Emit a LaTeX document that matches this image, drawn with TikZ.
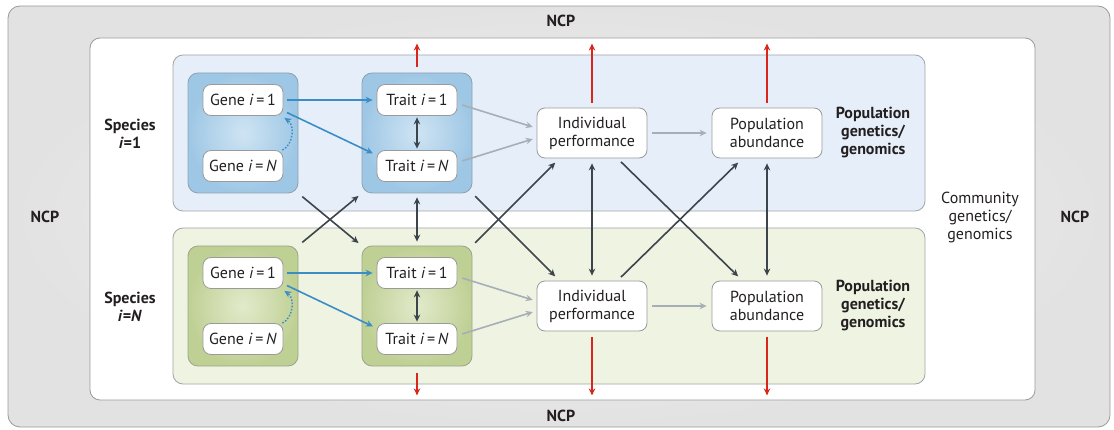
\documentclass[tikz,border=0pt]{standalone}
\usepackage{fontspec}
\setmainfont{PT Sans}
\usetikzlibrary{calc, positioning, arrows.meta, shapes}

\definecolor{ncp_fill}{HTML}{E2E2E2}
\definecolor{ncp_light}{HTML}{F4F4F4}
\definecolor{frame_line}{HTML}{9A9A9A}
\definecolor{blue_bg}{HTML}{E6EFF9}
\definecolor{blue_dark}{HTML}{9EC7E5}
\definecolor{blue_light}{HTML}{CFE4F3}
\definecolor{green_bg}{HTML}{EEF3E2}
\definecolor{green_dark}{HTML}{BFD094}
\definecolor{green_light}{HTML}{E2EACB}
\definecolor{dark_line}{HTML}{3C454C}
\definecolor{gray_line}{HTML}{A7AFB6}
\definecolor{blue_line}{HTML}{3B8DC6}
\definecolor{red_line}{HTML}{D9261C}
\definecolor{text_col}{HTML}{231F20}

\tikzset{
    gen_node/.style={rectangle, rounded corners=8pt, minimum width=80pt, minimum height=31pt, fill=white, draw=frame_line, line width=0.8pt, text centered, align=center, text=text_col, font=\fontsize{16}{18}\selectfont},
    perf_node/.style={gen_node, minimum width=110pt, minimum height=50pt},
    inner_box/.style={rectangle, rounded corners=10pt, minimum width=110pt, minimum height=120pt, line width=0.8pt},
    blue_box/.style={inner_box, draw=blue_dark!60!black!70, shading=radial, inner color=blue_light, outer color=blue_dark},
    green_box/.style={inner_box, draw=green_dark!60!black!70, shading=radial, inner color=green_light, outer color=green_dark},
    species_box/.style={rectangle, rounded corners=10pt, minimum width=752pt, minimum height=156pt, line width=0.8pt, draw=frame_line!90},
    label_text/.style={text centered, align=center, text=text_col, font=\fontsize{16}{18}\selectfont\bfseries},
    plain_text/.style={text centered, align=center, text=text_col, font=\fontsize{16}{18}\selectfont},
    dark_arrow/.style={line width=1.6pt, draw=dark_line, ->, >={Stealth[length=7pt, width=6.5pt]}},
    dark_double/.style={dark_arrow, <->},
    gray_arrow/.style={line width=1.6pt, draw=gray_line, ->, >={Stealth[length=7pt, width=6.5pt]}},
    blue_arrow/.style={line width=1.6pt, draw=blue_line, ->, >={Stealth[length=7pt, width=6.5pt]}},
    dotted_arrow/.style={blue_arrow, line width=1.4pt, dash pattern=on 1.6pt off 1.6pt},
    red_arrow/.style={line width=1.6pt, draw=red_line, ->, >={Stealth[length=7pt, width=6.5pt]}},
}

\begin{document}
\begin{tikzpicture}[x=1pt, y=-1pt]
      \useasboundingbox (0,0) rectangle (1114,430);

      %%%%%%%%%%%%%%%
      % Frames      %
      %%%%%%%%%%%%%%%
      \node (ncp_box) [rectangle, rounded corners=12pt, minimum width=1102pt, minimum height=421pt,
          draw=frame_line, line width=0.8pt, shading=radial, inner color=ncp_light, outer color=ncp_fill]
          at (559,216.5) {};
      \node (white_box) [rectangle, rounded corners=10pt, minimum width=945pt, minimum height=362pt,
          fill=white, draw=frame_line, line width=0.8pt] at (562.5,219) {};
      \node (species_top) [species_box, fill=blue_bg] at (549,133) {};
      \node (species_bot) [species_box, fill=green_bg] at (549,306) {};

      \node (gene_box_top) [blue_box] at (243,133) {};
      \node (trait_box_top) [blue_box] at (417,133) {};
      \node (gene_box_bot) [green_box] at (243,306) {};
      \node (trait_box_bot) [green_box] at (417,306) {};

      %%%%%%%%%%%%%%%
      % Species i=1 %
      %%%%%%%%%%%%%%%
      \node (gene_one_top) [gen_node] at (243,100) {Gene \textit{i}\,=\,1};
      \node (gene_n_top) [gen_node] at (243,166) {Gene \textit{i}\,=\,\textit{N}};
      \node (trait_one_top) [gen_node] at (417,100) {Trait \textit{i}\,=\,1};
      \node (trait_n_top) [gen_node] at (417,166) {Trait \textit{i}\,=\,\textit{N}};
      \node (indiv_top) [perf_node] at (592,133) {Individual\\performance};
      \node (pop_top) [perf_node] at (767,133) {Population\\abundance};

      %%%%%%%%%%%%%%%
      % Species i=N %
      %%%%%%%%%%%%%%%
      \node (gene_one_bot) [gen_node] at (243,273) {Gene \textit{i}\,=\,1};
      \node (gene_n_bot) [gen_node] at (243,339) {Gene \textit{i}\,=\,\textit{N}};
      \node (trait_one_bot) [gen_node] at (417,273) {Trait \textit{i}\,=\,1};
      \node (trait_n_bot) [gen_node] at (417,339) {Trait \textit{i}\,=\,\textit{N}};
      \node (indiv_bot) [perf_node] at (592,306) {Individual\\performance};
      \node (pop_bot) [perf_node] at (767,306) {Population\\abundance};

      %%%%%%%%%%%%%%%
      % Labels      %
      %%%%%%%%%%%%%%%
      \node (species_one_lbl) [label_text] at (130,134) {Species\\\textit{i}=1};
      \node (species_n_lbl) [label_text] at (130,307) {Species\\\textit{i}=\textit{N}};
      \node (popgen_top_lbl) [label_text] at (873,133) {Population\\genetics/\\genomics};
      \node (popgen_bot_lbl) [label_text] at (873,306) {Population\\genetics/\\genomics};
      \node (community_lbl) [plain_text] at (980,218) {Community\\genetics/\\genomics};
      \node (ncp_left) [label_text] at (45,217) {NCP};
      \node (ncp_right) [label_text] at (1075,217) {NCP};
      \node (ncp_top) [label_text] at (561,21) {NCP};
      \node (ncp_bottom) [label_text] at (561,416) {NCP};

      %%%%%%%%%%%%%%%
      % Within      %
      %%%%%%%%%%%%%%%
      \draw [blue_arrow, shorten <=4pt, shorten >=4pt] (gene_one_top.east) -- (trait_one_top.west);
      \draw [blue_arrow, shorten <=4pt, shorten >=4pt] (gene_one_top.-15) -- (trait_n_top.165);
      \draw [dotted_arrow] ([xshift=-1pt]gene_n_top.north east) to [bend right=60] ([xshift=1pt, yshift=-2pt]gene_one_top.south east);
      \draw [dark_double, shorten <=1.5pt, shorten >=1.5pt] (trait_one_top.south) -- (trait_n_top.north);
      \draw [gray_arrow, shorten <=5pt, shorten >=4pt] (trait_one_top.-5) -- (indiv_top.175);
      \draw [gray_arrow, shorten <=5pt, shorten >=4pt] (trait_n_top.5) -- (indiv_top.185);
      \draw [gray_arrow, shorten <=5pt, shorten >=5pt] (indiv_top.east) -- (pop_top.west);

      \draw [blue_arrow, shorten <=4pt, shorten >=4pt] (gene_one_bot.east) -- (trait_one_bot.west);
      \draw [blue_arrow, shorten <=4pt, shorten >=4pt] (gene_one_bot.-15) -- (trait_n_bot.165);
      \draw [dotted_arrow] ([xshift=-1pt]gene_n_bot.north east) to [bend right=60] ([xshift=1pt, yshift=-2pt]gene_one_bot.south east);
      \draw [dark_double, shorten <=1.5pt, shorten >=1.5pt] (trait_one_bot.south) -- (trait_n_bot.north);
      \draw [gray_arrow, shorten <=5pt, shorten >=4pt] (trait_one_bot.-5) -- (indiv_bot.175);
      \draw [gray_arrow, shorten <=5pt, shorten >=4pt] (trait_n_bot.5) -- (indiv_bot.185);
      \draw [gray_arrow, shorten <=5pt, shorten >=5pt] (indiv_bot.east) -- (pop_bot.west);

      %%%%%%%%%%%%%%%
      % Between     %
      %%%%%%%%%%%%%%%
      \draw [dark_arrow, shorten <=5pt, shorten >=4pt] (gene_box_top.south east) -- (trait_box_bot.north west);
      \draw [dark_arrow, shorten <=5pt, shorten >=4pt] (gene_box_bot.north east) -- (trait_box_top.south west);
      \draw [dark_double, shorten <=4pt, shorten >=4pt] (trait_box_top.south) -- (trait_box_bot.north);
      \draw [dark_arrow, shorten <=4pt, shorten >=6pt] (trait_box_top.south east) -- (indiv_bot.142);
      \draw [dark_arrow, shorten <=4pt, shorten >=6pt] (trait_box_bot.north east) -- (indiv_top.218);
      \draw [dark_double, shorten <=5pt, shorten >=5pt] (indiv_top.south) -- (indiv_bot.north);
      \draw [dark_arrow, shorten <=5pt, shorten >=6pt] (indiv_top.-45) -- (pop_bot.134);
      \draw [dark_arrow, shorten <=5pt, shorten >=6pt] (indiv_bot.45) -- (pop_top.-134);
      \draw [dark_double, shorten <=5pt, shorten >=5pt] (pop_top.south) -- (pop_bot.north);

      %%%%%%%%%%%%%%%
      % To NCP      %
      %%%%%%%%%%%%%%%
      \draw [red_arrow, shorten <=6pt, shorten >=6pt] (trait_box_top.north) -- (trait_box_top.north |- white_box.north);
      \draw [red_arrow, shorten <=5pt, shorten >=6pt] (indiv_top.north) -- (indiv_top.north |- white_box.north);
      \draw [red_arrow, shorten <=5pt, shorten >=6pt] (pop_top.north) -- (pop_top.north |- white_box.north);
      \draw [red_arrow, shorten <=7pt, shorten >=5pt] (trait_box_bot.south) -- (trait_box_bot.south |- white_box.south);
      \draw [red_arrow, shorten <=6pt, shorten >=5pt] (indiv_bot.south) -- (indiv_bot.south |- white_box.south);
      \draw [red_arrow, shorten <=6pt, shorten >=5pt] (pop_bot.south) -- (pop_bot.south |- white_box.south);

    \end{tikzpicture}
\end{document}
